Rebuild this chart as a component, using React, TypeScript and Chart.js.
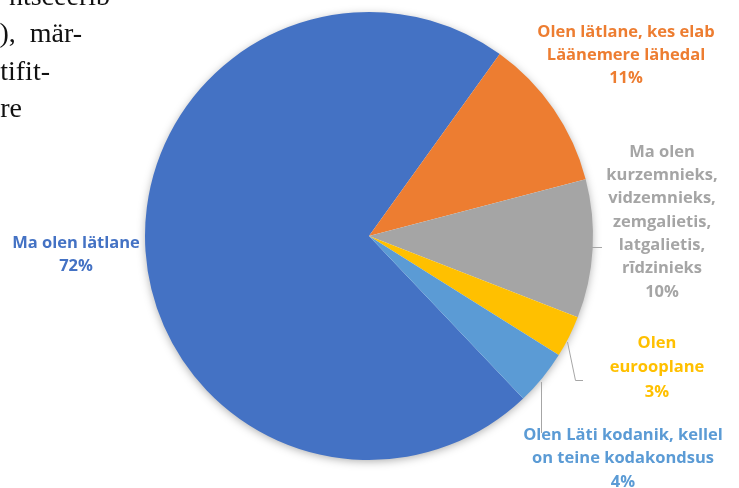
import React, { useEffect, useRef } from "react";
import { Chart, registerables } from "chart.js";

Chart.register(...registerables);

const categories = [
  "Ma olen lätlane",
  "Olen lätlane, kes elab Läänemere lähedal",
  "Ma olen kurzemnieks, vidzemnieks, zemgalietis, latgalietis, rīdzinieks",
  "Olen eurooplane",
  "Olen Läti kodanik, kellel on teine kodakondsus",
];
const values = [72, 11, 10, 3, 4];
const colors = ["#4472C4", "#ED7D31", "#A5A5A5", "#FFC000", "#5B9BD5"];
const labelColors = ["#4472C4", "#ED7D31", "#A5A5A5", "#FFC000", "#5B9BD5"];
const labelLines = [
  ["Ma olen lätlane", "72%"],
  ["Olen lätlane, kes elab", "Läänemere lähedal", "11%"],
  ["Ma olen", "kurzemnieks,", "vidzemnieks,", "zemgalietis,", "latgalietis,", "rīdzinieks", "10%"],
  ["Olen", "eurooplane", "3%"],
  ["Olen Läti kodanik, kellel", "on teine kodakondsus", "4%"],
];
const bodyLines = ["ntsceerib", "), mär-", "tifit-", "re"];

// layout: label anchor (center x, first line y) relative to pie center
const labelPos = [
  { dx: -293, dy: 7, lh: 23 },
  { dx: 257, dy: -204, lh: 23 },
  { dx: 293, dy: -84, lh: 23.3 },
  { dx: 288, dy: 107, lh: 24.5 },
  { dx: 254, dy: 199, lh: 23.5 },
];
const bodyRightEdges = [110, 82, 50, 22];
const bodyWordSpacing = [0, 7, 0, 0];

const labelsPlugin = {
  id: "pieLabels",
  beforeDatasetsDraw(chart: any) {
    const arc = chart.getDatasetMeta(0).data[0];
    if (!arc) return;
    const { x, y, outerRadius } = arc.getProps(["x", "y", "outerRadius"], true);
    const ctx = chart.ctx;
    ctx.save();
    ctx.shadowColor = "rgba(0,0,0,0.35)";
    ctx.shadowBlur = 10;
    ctx.shadowOffsetY = 2;
    ctx.fillStyle = "#ffffff";
    ctx.beginPath();
    ctx.arc(x, y, outerRadius - 1, 0, Math.PI * 2);
    ctx.fill();
    ctx.restore();
  },
  afterDatasetsDraw(chart: any) {
    const arc = chart.getDatasetMeta(0).data[0];
    if (!arc) return;
    const { x, y } = arc.getProps(["x", "y"], true);
    const ctx = chart.ctx;
    ctx.save();
    // leader lines
    ctx.strokeStyle = "#A6A6A6";
    ctx.lineWidth = 1;
    ctx.beginPath();
    ctx.moveTo(x + 223, y + 11.5);
    ctx.lineTo(x + 233, y + 11.5);
    ctx.moveTo(x + 198.5, y + 106);
    ctx.lineTo(x + 206.5, y + 144.5);
    ctx.lineTo(x + 214, y + 144.5);
    ctx.moveTo(x + 172.5, y + 146);
    ctx.lineTo(x + 172.5, y + 197);
    ctx.stroke();
    ctx.font = "bold 16.5px 'Open Sans', sans-serif";
    ctx.textAlign = "center";
    ctx.textBaseline = "middle";
    labelLines.forEach((lines, i) => {
      const p = labelPos[i];
      ctx.fillStyle = labelColors[i];
      lines.forEach((t, j) => {
        ctx.fillText(t, x + p.dx, y + p.dy + j * p.lh);
      });
    });
    ctx.restore();
  },
};

export default function App() {
  const ref = useRef<HTMLCanvasElement>(null);
  useEffect(() => {
    if (!ref.current) return;
    const chart = new Chart(ref.current, {
      type: "pie",
      data: {
        labels: categories,
        datasets: [
          {
            data: values,
            backgroundColor: colors,
            borderWidth: 0,
          },
        ],
      },
      options: {
        animation: false,
        responsive: false,
        rotation: 136.5,
        layout: { padding: { left: 145, right: 146, top: 12, bottom: 28 } },
        plugins: { legend: { display: false }, tooltip: { enabled: false } },
      },
      plugins: [labelsPlugin],
    });
    return () => chart.destroy();
  }, []);
  return (
    <div style={{ position: "fixed", left: 0, top: 0, width: 739, height: 488, background: "#fff", overflow: "hidden" }}>
      <canvas ref={ref} width={739} height={488} style={{ position: "absolute", left: 0, top: 0 }} />
      {bodyLines.map((t, i) => (
        <div
          key={i}
          style={{
            position: "absolute",
            right: 739 - bodyRightEdges[i],
            top: -19.5 + i * 37.5,
            fontFamily: "'Liberation Serif', serif",
            fontSize: 28,
            lineHeight: "30px",
            wordSpacing: bodyWordSpacing[i],
            color: "#111",
            whiteSpace: "nowrap",
            textAlign: "right",
          }}
        >
          {t}
        </div>
      ))}
    </div>
  );
}
